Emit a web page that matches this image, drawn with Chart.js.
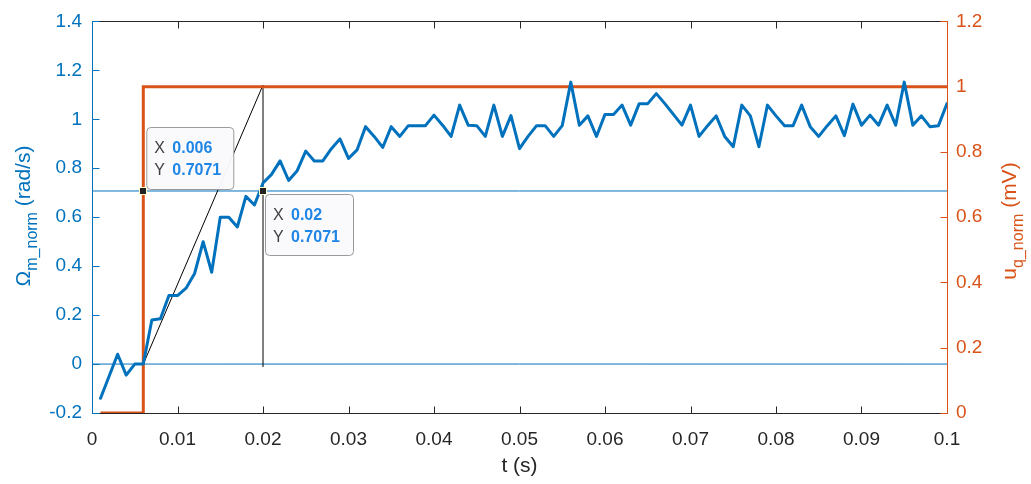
<!DOCTYPE html>
<html>
<head>
<meta charset="utf-8">
<script src="https://cdn.jsdelivr.net/npm/chart.js@4"></script>
<style>
html,body{margin:0;padding:0;background:#fff;}
#c{display:block;}
</style>
</head>
<body>
<canvas id="c" width="1031" height="484"></canvas>
<script>
// ---- data ----
const tValues = [0.001,0.002,0.003,0.004,0.005,0.006,0.007,0.008,0.009,0.010,
0.011,0.012,0.013,0.014,0.015,0.016,0.017,0.018,0.019,0.020,
0.021,0.022,0.023,0.024,0.025,0.026,0.027,0.028,0.029,0.030,
0.031,0.032,0.033,0.034,0.035,0.036,0.037,0.038,0.039,0.040,
0.041,0.042,0.043,0.044,0.045,0.046,0.047,0.048,0.049,0.050,
0.051,0.052,0.053,0.054,0.055,0.056,0.057,0.058,0.059,0.060,
0.061,0.062,0.063,0.064,0.065,0.066,0.067,0.068,0.069,0.070,
0.071,0.072,0.073,0.074,0.075,0.076,0.077,0.078,0.079,0.080,
0.081,0.082,0.083,0.084,0.085,0.086,0.087,0.088,0.089,0.090,
0.091,0.092,0.093,0.094,0.095,0.096,0.097,0.098,0.099,0.100];
const omegaNorm = [-0.14,-0.05,0.04,-0.045,0.0,0.0,0.18,0.185,0.28,0.28,
0.31,0.37,0.50,0.375,0.60,0.60,0.56,0.685,0.65,0.74,
0.775,0.83,0.75,0.79,0.87,0.83,0.83,0.88,0.92,0.84,
0.875,0.97,0.93,0.885,0.97,0.93,0.974,0.974,0.974,1.017,
0.976,0.93,1.058,0.976,0.974,0.93,1.058,0.93,1.015,0.88,
0.93,0.974,0.974,0.93,0.974,1.152,0.976,1.014,0.93,1.02,
1.02,1.058,0.976,1.064,1.064,1.105,1.064,1.02,0.976,1.058,
0.93,0.974,1.014,0.93,0.888,1.058,1.014,0.888,1.058,1.014,
0.974,0.974,1.058,0.97,0.93,0.974,1.014,0.933,1.062,0.976,
1.017,0.976,1.058,0.976,1.152,0.976,1.014,0.97,0.974,1.064];
const uStepT = [0.001,0.006,0.006,0.1];
const uStepV = [0,0,1,1];
const refLevels = [0.7071, 0];          // horizontal reference lines (left axis)
const tangentT = [0.006, 0.02];
const tangentV = [0, 1.14];
const verticalT = [0.02, 0.02];
const verticalV = [-0.012, 1.14];
const tipT = [0.006, 0.02];
const tipV = [0.7071, 0.7071];
const tipXLabels = ['0.006', '0.02'];
const tipYLabels = ['0.7071', '0.7071'];
const xTicks = [0,0.01,0.02,0.03,0.04,0.05,0.06,0.07,0.08,0.09,0.1];
const xTickLabels = ['0','0.01','0.02','0.03','0.04','0.05','0.06','0.07','0.08','0.09','0.1'];
const yTicks = [-0.2,0,0.2,0.4,0.6,0.8,1,1.2,1.4];
const yTickLabels = ['-0.2','0','0.2','0.4','0.6','0.8','1','1.2','1.4'];
const y2Ticks = [0,0.2,0.4,0.6,0.8,1,1.2];
const y2TickLabels = ['0','0.2','0.4','0.6','0.8','1','1.2'];

// ---- style ----
const BLUE = '#0072BD', ORANGE = '#D95319', DARK = '#262626';
const TIPBLUE = '#1f86e6';
const FONT = '"Liberation Sans", Arial, Helvetica, sans-serif';

const zip = (xs, ys) => xs.map((x, i) => ({x: x, y: ys[i]}));

const decorations = {
  id: 'decorations',
  afterDatasetsDraw(chart) {
    const ctx = chart.ctx;
    const a = chart.chartArea;
    const sx = chart.scales.x, sy = chart.scales.y, sy2 = chart.scales.y2;
    ctx.save();
    // datatip boxes
    const boxes = [
      {dx: 3, dy: -64, w: 87, h: 62},
      {dx: 2, dy: 3, w: 88, h: 61}
    ];
    for (let i = 0; i < tipT.length; i++) {
      const px = sx.getPixelForValue(tipT[i]);
      const py = sy.getPixelForValue(tipV[i]);
      const b = boxes[i];
      const bx = px + b.dx, by = py + b.dy;
      ctx.beginPath();
      ctx.roundRect(bx + 0.5, by + 0.5, b.w, b.h, 4);
      ctx.fillStyle = 'rgba(250,250,253,0.97)';
      ctx.fill();
      ctx.strokeStyle = '#9a9a9a';
      ctx.lineWidth = 1;
      ctx.stroke();
      ctx.textBaseline = 'middle';
      ctx.textAlign = 'left';
      const lx = bx + 8, vx = bx + 26;
      const l1 = by + 22, l2 = by + 44;
      ctx.font = '16px ' + FONT;
      ctx.fillStyle = '#404040';
      ctx.fillText('X', lx, l1);
      ctx.fillText('Y', lx, l2);
      ctx.font = 'bold 16px ' + FONT;
      ctx.fillStyle = TIPBLUE;
      ctx.fillText(tipXLabels[i], vx, l1);
      ctx.fillText(tipYLabels[i], vx, l2);
    }
    // datatip markers on top
    for (let i = 0; i < tipT.length; i++) {
      const px = Math.round(sx.getPixelForValue(tipT[i]));
      const py = Math.round(sy.getPixelForValue(tipV[i]));
      ctx.fillStyle = '#ffffd0';
      ctx.fillRect(px - 4, py - 4, 8, 8);
      ctx.fillStyle = '#222';
      ctx.fillRect(px - 3, py - 3, 6, 6);
    }
    ctx.restore();
  },
  afterDraw(chart) {
    const ctx = chart.ctx;
    const a = chart.chartArea;
    const sx = chart.scales.x, sy = chart.scales.y, sy2 = chart.scales.y2;
    const L = Math.round(a.left) + 0.5, R = Math.round(a.right) + 0.5;
    const T = Math.round(a.top) + 0.5, B = Math.round(a.bottom) + 0.5;
    const tl = 7;
    ctx.save();
    ctx.lineWidth = 1;
    // top and bottom axes
    ctx.strokeStyle = DARK;
    ctx.beginPath();
    ctx.moveTo(L, B); ctx.lineTo(R, B);
    ctx.moveTo(L, T); ctx.lineTo(R, T);
    xTicks.forEach(v => {
      const p = Math.round(sx.getPixelForValue(v)) + 0.5;
      ctx.moveTo(p, B); ctx.lineTo(p, B - tl);
      ctx.moveTo(p, T); ctx.lineTo(p, T + tl);
    });
    ctx.stroke();
    // left axis
    ctx.strokeStyle = BLUE;
    ctx.beginPath();
    ctx.moveTo(L, T); ctx.lineTo(L, B);
    yTicks.forEach(v => {
      const p = Math.round(sy.getPixelForValue(v)) + 0.5;
      ctx.moveTo(L, p); ctx.lineTo(L + tl, p);
    });
    ctx.stroke();
    // right axis
    ctx.strokeStyle = ORANGE;
    ctx.beginPath();
    ctx.moveTo(R, T); ctx.lineTo(R, B);
    y2Ticks.forEach(v => {
      const p = Math.round(sy2.getPixelForValue(v)) + 0.5;
      ctx.moveTo(R, p); ctx.lineTo(R - tl, p);
    });
    ctx.stroke();

    // axis titles
    ctx.textBaseline = 'alphabetic';
    ctx.textAlign = 'left';
    ctx.font = '21px ' + FONT;
    ctx.fillStyle = DARK;
    ctx.textAlign = 'center';
    ctx.fillText('t (s)', (a.left + a.right) / 2, 472);

    function subLabel(parts, cx, cy, color) {
      // parts: [main, sub, rest]; rotated -90deg
      ctx.save();
      ctx.translate(cx, cy);
      ctx.rotate(-Math.PI / 2);
      ctx.fillStyle = color;
      ctx.textAlign = 'left';
      const mainF = '21px ' + FONT, subF = '16px ' + FONT;
      ctx.font = mainF; const w1 = ctx.measureText(parts[0]).width;
      ctx.font = subF; const w2 = ctx.measureText(parts[1]).width;
      ctx.font = mainF; const w3 = ctx.measureText(parts[2]).width;
      let x0 = -(w1 + w2 + w3) / 2;
      ctx.font = mainF; ctx.fillText(parts[0], x0, 0);
      ctx.font = subF; ctx.fillText(parts[1], x0 + w1, 7);
      ctx.font = mainF; ctx.fillText(parts[2], x0 + w1 + w2, 0);
      ctx.restore();
    }
    subLabel(['\u03A9', 'm_norm', ' (rad/s)'], 30, 216, BLUE);
    subLabel(['u', 'q_norm', ' (mV)'], 1016, 221, ORANGE);
    ctx.restore();
  }
};

const lineBase = {pointRadius: 0, pointHoverRadius: 0, fill: false, tension: 0};

new Chart(document.getElementById('c'), {
  type: 'scatter',
  data: {
    datasets: [
      Object.assign({}, lineBase, {data: zip([0, 0.1], [refLevels[0], refLevels[0]]), showLine: true, borderColor: BLUE, borderWidth: 1, yAxisID: 'y', order: 5}),
      Object.assign({}, lineBase, {data: zip([0, 0.1], [refLevels[1], refLevels[1]]), showLine: true, borderColor: BLUE, borderWidth: 1, yAxisID: 'y', order: 5}),
      Object.assign({}, lineBase, {data: zip(tangentT, tangentV), showLine: true, borderColor: '#000', borderWidth: 1, yAxisID: 'y', order: 4}),
      Object.assign({}, lineBase, {data: zip(verticalT, verticalV), showLine: true, borderColor: '#000', borderWidth: 1, yAxisID: 'y', order: 4}),
      Object.assign({}, lineBase, {data: zip(uStepT, uStepV), showLine: true, borderColor: ORANGE, borderWidth: 3, yAxisID: 'y2', order: 3, borderJoinStyle: 'miter'}),
      Object.assign({}, lineBase, {data: zip(tValues, omegaNorm), showLine: true, borderColor: BLUE, borderWidth: 3, yAxisID: 'y', order: 2, borderJoinStyle: 'round', borderCapStyle: 'round'})
    ]
  },
  options: {
    responsive: false,
    animation: false,
    devicePixelRatio: 1,
    layout: {padding: {top: 18, left: 0, right: 0, bottom: 0}},
    plugins: {legend: {display: false}, tooltip: {enabled: false}},
    events: [],
    scales: {
      x: {
        type: 'linear', min: 0, max: 0.1, position: 'bottom',
        grid: {display: false, drawTicks: false}, border: {display: false},
        afterBuildTicks: s => { s.ticks = xTicks.map(v => ({value: v})); },
        afterFit: s => { s.height = 71; },
        ticks: {
          padding: 15, color: DARK, font: {size: 19, family: FONT}, maxRotation: 0, autoSkip: false,
          callback: (v, i) => xTickLabels[i]
        }
      },
      y: {
        type: 'linear', min: -0.2, max: 1.4, position: 'left',
        grid: {display: false, drawTicks: false}, border: {display: false},
        afterBuildTicks: s => { s.ticks = yTicks.map(v => ({value: v})); },
        afterFit: s => { s.width = 92; },
        ticks: {
          padding: 10, color: BLUE, font: {size: 19, family: FONT}, autoSkip: false,
          callback: (v, i) => yTickLabels[i]
        }
      },
      y2: {
        type: 'linear', min: 0, max: 1.2, position: 'right',
        grid: {display: false, drawTicks: false}, border: {display: false},
        afterBuildTicks: s => { s.ticks = y2Ticks.map(v => ({value: v})); },
        afterFit: s => { s.width = 84; },
        ticks: {
          padding: 9, color: ORANGE, font: {size: 19, family: FONT}, autoSkip: false,
          callback: (v, i) => y2TickLabels[i]
        }
      }
    }
  },
  plugins: [decorations]
});
</script>
</body>
</html>
